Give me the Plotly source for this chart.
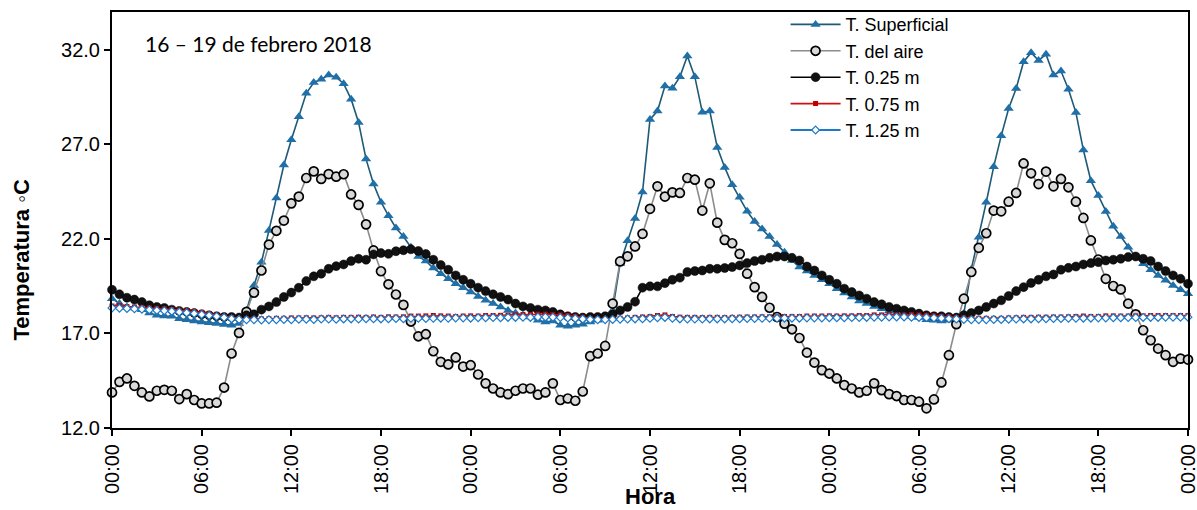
import plotly.graph_objects as go

# --- data (30-min readings, 16-19 Feb 2018) ---
horas = [i * 0.5 for i in range(145)]
tick_vals = [0, 6, 12, 18, 24, 30, 36, 42, 48, 54, 60, 66, 72]
tick_text = ["00:00", "06:00", "12:00", "18:00", "00:00", "06:00", "12:00",
             "18:00", "00:00", "06:00", "12:00", "18:00", "00:00"]
y_ticks = [12.0, 17.0, 22.0, 27.0, 32.0]

t_superficial = [
    18.84, 18.58, 18.40, 18.35, 18.26, 18.08, 17.96, 17.92, 17.91, 17.78,
    17.73, 17.66, 17.61, 17.56, 17.52, 17.47, 17.43, 17.52, 18.22, 19.54,
    20.77, 22.44, 24.17, 25.91, 27.24, 28.46, 29.70, 30.27, 30.44, 30.67,
    30.55, 30.21, 29.39, 28.16, 26.22, 24.91, 23.94, 23.23, 22.58, 22.13,
    21.56, 21.07, 20.83, 20.46, 20.16, 19.89, 19.63, 19.42, 19.19, 18.96,
    18.75, 18.58, 18.40, 18.22, 18.08, 17.96, 17.87, 17.70, 17.61,
    17.66, 17.43, 17.38, 17.43, 17.49, 17.61, 17.70, 17.87, 18.22, 20.70,
    21.90, 23.08, 24.48, 28.32, 28.76, 30.09, 29.97, 30.57, 31.67, 30.57,
    28.70, 28.76, 26.84, 25.78, 24.87, 24.20, 23.46, 22.92, 22.53,
    22.13, 21.70, 21.30, 20.86, 20.51, 20.30, 20.07, 19.84, 19.63, 19.37,
    19.14, 18.93, 18.72, 18.58, 18.43, 18.31, 18.19, 18.08, 17.96, 17.91,
    17.84, 17.73, 17.70, 17.66, 17.70, 17.78, 18.05, 20.40, 22.09,
    23.94, 25.82, 27.45, 28.90, 29.95, 31.37, 31.85, 31.44, 31.76, 30.67,
    30.88, 29.92, 28.68, 26.70, 25.08, 24.29, 23.45, 22.67, 22.13, 21.56,
    21.04, 20.69, 20.37, 20.07, 19.81, 19.54, 19.31, 19.10,
]

t_aire = [
    13.88, 14.44, 14.62, 14.23, 13.88, 13.67, 13.97, 14.02, 13.97, 13.53,
    13.79, 13.48, 13.30, 13.30, 13.34, 14.14, 15.94, 17.03, 18.14, 19.16,
    20.33, 21.70, 22.43, 22.97, 23.88, 24.24, 25.22, 25.57, 25.17, 25.43,
    25.29, 25.42, 24.35, 23.80, 22.77, 21.39, 20.29, 19.60, 19.06, 18.51,
    17.63, 16.85, 16.96, 16.06, 15.50, 15.36, 15.73, 15.25, 15.32, 14.83,
    14.36, 14.09, 13.88, 13.79, 13.97, 14.09, 14.09, 13.76, 13.88,
    14.36, 13.48, 13.56, 13.44, 13.93, 15.80, 15.94, 16.34, 18.58, 20.81,
    21.08, 21.60, 22.27, 23.59, 24.78, 24.24, 24.46, 24.43, 25.22, 25.13,
    23.50, 24.94, 22.86, 21.95, 21.77, 21.21, 20.16, 19.45, 18.93,
    18.36, 17.87, 17.52, 17.22, 16.76, 15.99, 15.46, 15.06, 14.88, 14.62,
    14.27, 14.09, 13.88, 13.97, 14.36, 14.00, 13.79, 13.69, 13.48, 13.48,
    13.39, 13.04, 13.51, 14.41, 15.85, 17.49, 18.84, 20.25, 21.53,
    22.30, 23.50, 23.46, 23.97, 24.43, 25.99, 25.47, 24.90, 25.56, 24.78,
    25.17, 24.73, 23.97, 23.11, 21.92, 20.91, 19.89, 19.51, 19.33, 18.58,
    18.01, 17.17, 16.64, 16.20, 15.85, 15.50, 15.67, 15.62,
]

t_025 = [
    19.31, 19.07, 18.89, 18.79, 18.66, 18.49, 18.40, 18.35, 18.26, 18.19,
    18.14, 18.08, 18.01, 17.96, 17.91, 17.87, 17.87, 17.84, 17.96, 18.01,
    18.26, 18.43, 18.66, 18.93, 19.16, 19.42, 19.77, 20.02, 20.16, 20.42,
    20.56, 20.65, 20.83, 20.95, 20.90, 21.18, 21.25, 21.21, 21.35, 21.40,
    21.45, 21.36, 21.20, 20.90, 20.62, 20.37, 20.07, 19.84, 19.63, 19.42,
    19.24, 19.07, 18.93, 18.79, 18.58, 18.43, 18.35, 18.26, 18.22,
    18.14, 18.01, 17.91, 17.87, 17.84, 17.87, 17.87, 17.91, 18.01, 18.22,
    18.40, 18.68, 19.42, 19.49, 19.49, 19.66, 19.84, 19.95, 20.25, 20.30,
    20.33, 20.42, 20.42, 20.46, 20.51, 20.60, 20.72, 20.83, 20.90,
    21.00, 21.07, 21.07, 21.00, 20.86, 20.54, 20.33, 20.07, 19.84, 19.63,
    19.37, 19.19, 19.01, 18.84, 18.66, 18.54, 18.40, 18.31, 18.22, 18.14,
    18.05, 17.96, 17.91, 17.91, 17.87, 17.84, 17.96, 18.08, 18.22,
    18.40, 18.58, 18.75, 18.98, 19.24, 19.45, 19.67, 19.84, 20.02, 20.12,
    20.37, 20.47, 20.54, 20.65, 20.72, 20.77, 20.86, 20.90, 20.95, 21.04,
    21.07, 20.95, 20.83, 20.54, 20.30, 20.07, 19.89, 19.63,
]

t_075 = [
    18.45, 18.47, 18.42, 18.40, 18.38, 18.35, 18.33, 18.30, 18.27, 18.24,
    18.20, 18.16, 18.12, 18.05, 17.98, 17.90, 17.85, 17.80,
    17.78, 17.78, 17.77, 17.78, 17.80, 17.80, 17.82, 17.82, 17.83, 17.82,
    17.83, 17.85, 17.83, 17.85, 17.85, 17.86, 17.85, 17.87, 17.85, 17.88,
    17.87, 17.88, 17.92,
    17.92, 17.93, 17.95, 17.93, 17.92, 17.90, 17.92, 17.93, 17.92, 17.95,
    17.95, 17.96, 17.96, 17.98, 18.00, 18.00, 18.02, 18.02,
    18.00, 17.98, 17.95, 17.90, 17.85, 17.80, 17.78, 17.78, 17.78, 17.80,
    17.82, 17.85, 17.87, 17.90, 17.95, 17.98, 17.90, 17.86, 17.85, 17.85,
    17.84, 17.85, 17.85, 17.84, 17.85, 17.86, 17.87, 17.87, 17.88,
    17.88, 17.88, 17.90, 17.90, 17.90, 17.92, 17.92, 17.92, 17.93, 17.92,
    17.93, 17.93, 17.95, 17.95, 17.98, 17.98, 18.00, 17.98, 17.98, 18.00,
    17.98, 17.96, 17.93, 17.90, 17.88, 17.85, 17.83, 17.80, 17.80,
    17.80, 17.80, 17.80, 17.82, 17.83, 17.85, 17.85, 17.86, 17.86, 17.87,
    17.87, 17.88, 17.90, 17.92, 17.90, 17.90, 17.93, 17.93, 17.92, 17.92,
    17.93, 17.93, 17.95, 17.95, 17.95, 17.95, 17.95, 17.95,
]

t_125 = [
    18.35, 18.33, 18.32, 18.30, 18.28, 18.25, 18.22, 18.20, 18.17, 18.13,
    18.09, 18.05, 18.00, 17.95, 17.90, 17.84, 17.78, 17.74,
    17.72, 17.72, 17.71, 17.73, 17.73, 17.74, 17.73, 17.75, 17.75, 17.74,
    17.76, 17.76, 17.75, 17.77, 17.77, 17.76, 17.78, 17.78, 17.77, 17.78,
    17.79, 17.78, 17.80, 17.80, 17.79, 17.80, 17.81, 17.80, 17.82, 17.82,
    17.81, 17.83, 17.83, 17.84, 17.83, 17.85, 17.85, 17.86, 17.85, 17.87,
    17.87,
    17.86, 17.84, 17.82, 17.79, 17.76, 17.74, 17.73, 17.73, 17.74, 17.75,
    17.76, 17.77, 17.78, 17.80, 17.83, 17.85, 17.80, 17.77, 17.76, 17.76,
    17.76, 17.77, 17.77, 17.77, 17.78, 17.78, 17.79, 17.79, 17.80,
    17.80, 17.80, 17.81, 17.81, 17.81, 17.82, 17.82, 17.82, 17.83, 17.83,
    17.83, 17.84, 17.84, 17.85, 17.86, 17.86, 17.87, 17.87, 17.87, 17.86,
    17.85, 17.84, 17.82, 17.80, 17.78, 17.76, 17.74, 17.73, 17.73,
    17.73, 17.74, 17.74, 17.75, 17.76, 17.77, 17.77, 17.78, 17.78, 17.79,
    17.79, 17.80, 17.80, 17.81, 17.81, 17.82, 17.82, 17.83, 17.83, 17.84,
    17.84, 17.85, 17.85, 17.85, 17.86, 17.86, 17.86, 17.86,
]

for name, s in [("sup", t_superficial), ("aire", t_aire), ("025", t_025),
                ("075", t_075), ("125", t_125)]:
    assert len(s) == len(horas), (name, len(s))

FONT = "Liberation Sans, Arial, sans-serif"

fig = go.Figure()
fig.add_trace(go.Scatter(
    x=horas, y=t_superficial, name="T. Superficial", mode="lines+markers",
    line=dict(color="#1D5A78", width=1.6),
    marker=dict(symbol="triangle-up", size=9, color="#1F6FA8",
                line=dict(width=0)),
    cliponaxis=False))
fig.add_trace(go.Scatter(
    x=horas, y=t_aire, name="T. del aire", mode="lines+markers",
    line=dict(color="#8C8C8C", width=1.6),
    marker=dict(symbol="circle", size=9, color="#D9D9D9",
                line=dict(color="#000000", width=1.7)),
    cliponaxis=False))
fig.add_trace(go.Scatter(
    x=horas, y=t_025, name="T. 0.25 m", mode="lines+markers",
    line=dict(color="#000000", width=1.6),
    marker=dict(symbol="circle", size=9, color="#111111",
                line=dict(color="#000000", width=0.5)),
    cliponaxis=False))
fig.add_trace(go.Scatter(
    x=horas, y=t_075, name="T. 0.75 m", mode="lines+markers",
    line=dict(color="#D01010", width=1.6),
    marker=dict(symbol="square", size=5, color="#C00000",
                line=dict(width=0)),
    cliponaxis=False))
fig.add_trace(go.Scatter(
    x=horas, y=t_125, name="T. 1.25 m", mode="lines+markers",
    line=dict(color="#1C7AC9", width=1.8),
    marker=dict(symbol="diamond", size=6, color="#FFFFFF",
                line=dict(color="#1C7AC9", width=1.2)),
    cliponaxis=False))

# plot-area text
fig.add_annotation(
    x=0.029, y=0.925, xref="paper", yref="paper", xanchor="left",
    yanchor="middle", showarrow=False, text="16 – 19 de febrero 2018",
    font=dict(family="Lato, Carlito, sans-serif", size=21, color="#000000"))

# axis titles (placed as in the original)
fig.add_annotation(
    x=-0.084, y=0.404, xref="paper", yref="paper", xanchor="center",
    yanchor="middle", showarrow=False, textangle=-90,
    text="<b>Temperatura ◦C</b>",
    font=dict(family=FONT, size=22, color="#000000"))
fig.add_annotation(
    x=0.5, y=-0.2, xref="paper", yref="paper", xanchor="center",
    yanchor="bottom", showarrow=False, text="<b>Hora</b>",
    font=dict(family=FONT, size=22, color="#000000"))

fig.update_layout(
    width=1197, height=510,
    margin=dict(l=112, r=9, t=12, b=82, autoexpand=False),
    paper_bgcolor="white", plot_bgcolor="white",
    font=dict(family=FONT, size=20, color="#000000"),
    showlegend=True,
    legend=dict(x=0.626, y=1.014, xanchor="left", yanchor="top",
                bgcolor="rgba(0,0,0,0)", borderwidth=0,
                font=dict(family=FONT, size=18, color="#000000"),
                itemwidth=50, tracegroupgap=0),
    xaxis=dict(range=[0, 72], tickmode="array", tickvals=tick_vals,
               ticktext=tick_text, tickangle=-90, ticks="outside",
               ticklen=6, tickwidth=1.5, tickcolor="#000000",
               showline=True, linecolor="#000000", linewidth=2, mirror=True,
               showgrid=False, zeroline=False, automargin=False,
               ticklabeloverflow="allow",
               tickfont=dict(family=FONT, size=20)),
    yaxis=dict(range=[12, 34], tickmode="array", tickvals=y_ticks,
               tickformat=".1f", ticks="outside", ticklen=6, tickwidth=1.5,
               tickcolor="#000000", showline=True, linecolor="#000000",
               linewidth=2, mirror=True, showgrid=False, zeroline=False,
               automargin=False, ticklabeloverflow="allow",
               tickfont=dict(family=FONT, size=20)),
)

fig.write_html("out.html")
